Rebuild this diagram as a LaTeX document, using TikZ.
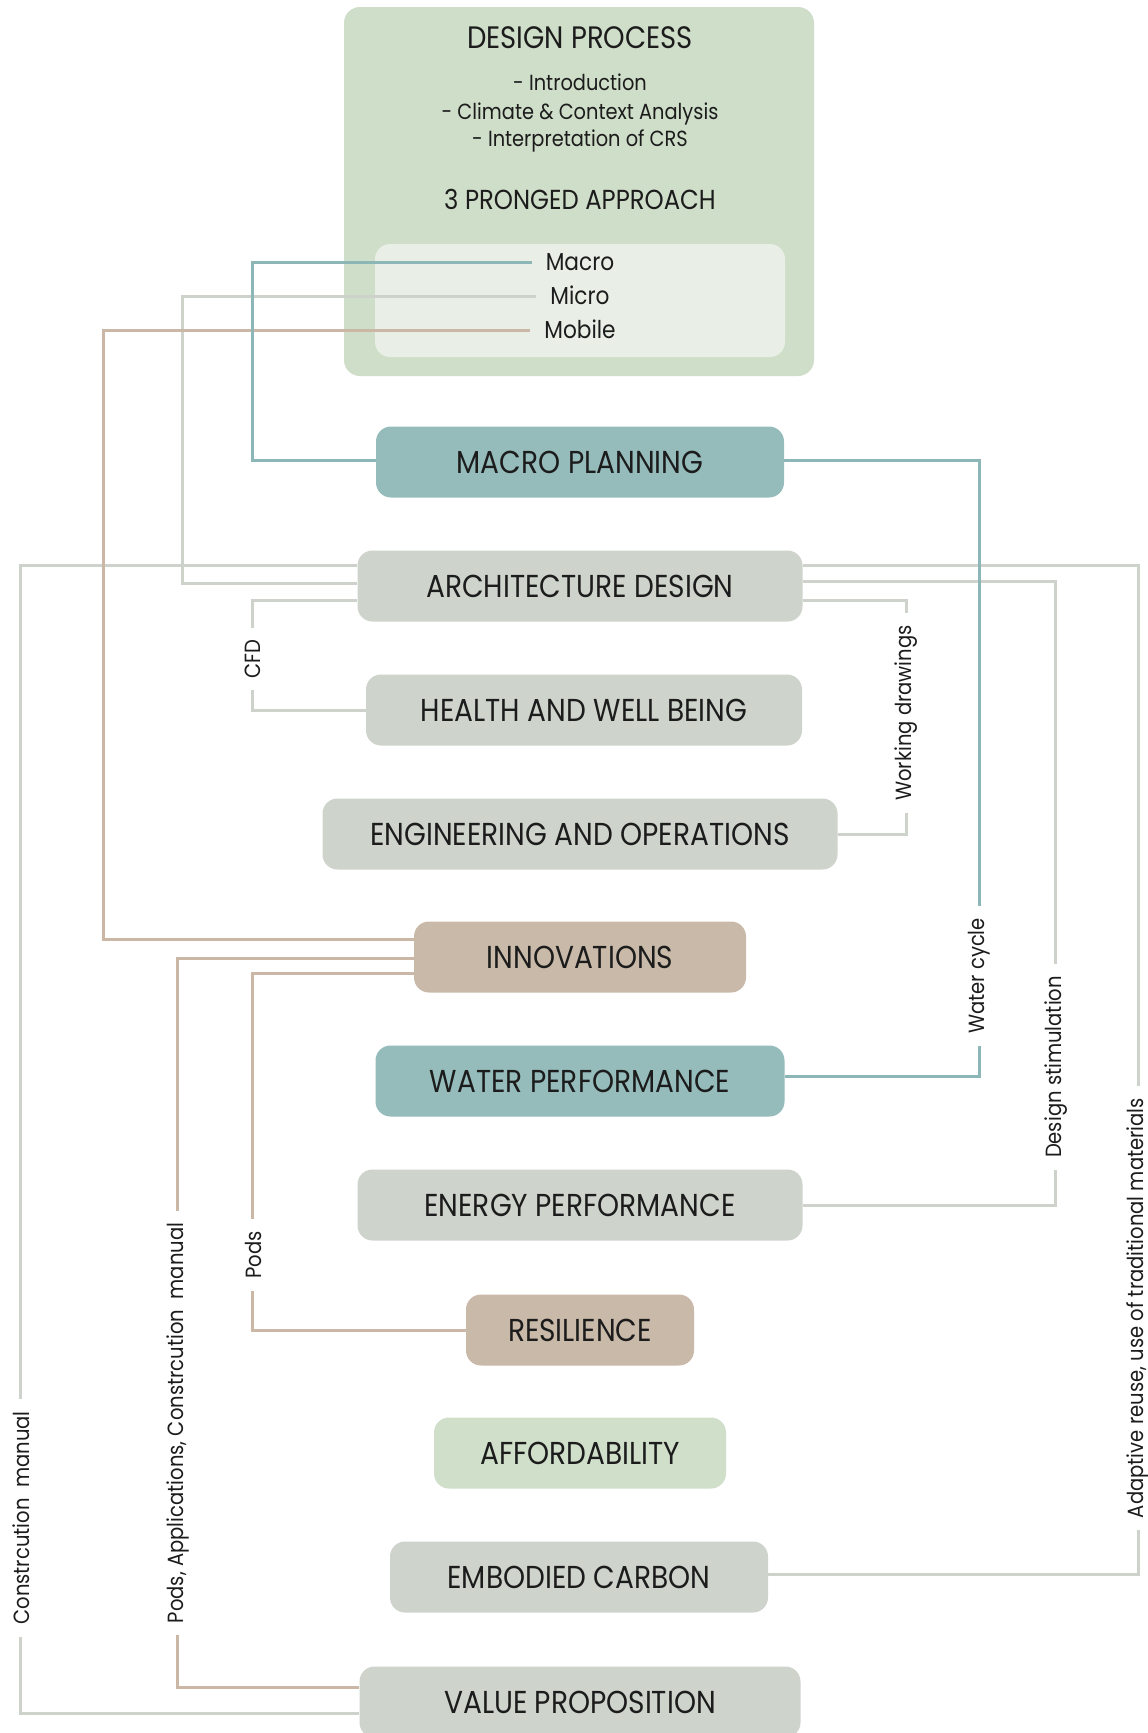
\documentclass[tikz,border=0pt]{standalone}
\usepackage{fontspec}
\setmainfont[FakeStretch=0.885]{Poppins}
\newfontfamily\lblfont[FakeStretch=0.89]{Poppins}
\usetikzlibrary{calc}
\definecolor{txt}{HTML}{1C1C1C}
\definecolor{outergreen}{HTML}{CEDEC8}
\definecolor{innergreen}{HTML}{E9EFE7}
\definecolor{tealbox}{HTML}{95BBBB}
\definecolor{graybox}{HTML}{CED3CC}
\definecolor{tanbox}{HTML}{C9B9A9}
\definecolor{greenbox}{HTML}{CFDFCA}
\definecolor{tealln}{HTML}{8DB7B7}
\definecolor{grayln}{HTML}{CDD2CB}
\definecolor{tanln}{HTML}{CBB7A6}
\begin{document}
\begin{tikzpicture}[x=1pt,y=-1pt,
  box/.style={rounded corners=15pt, minimum height=71pt, inner sep=0pt, text=txt,
    font=\fontsize{31.7}{38}\selectfont},
  tealfill/.style={box, fill=tealbox},
  grayfill/.style={box, fill=graybox},
  tanfill/.style={box, fill=tanbox},
  greenfill/.style={box, fill=greenbox},
  ttl/.style={anchor=base, inner sep=0pt, text=txt},
  prong/.style={inner sep=0pt, text=txt, text height=17.5pt, text depth=0pt,
    font=\fontsize{24.5}{30}\selectfont},
  ln/.style={line width=3pt},
  lbl/.style={rotate=90, fill=white, inner xsep=12pt, inner ysep=1pt, text=txt,
    font=\lblfont\fontsize{22}{26}\selectfont}]
\fill[white] (0,0) rectangle (1148,1733);
\useasboundingbox (0,0) rectangle (1148,1733);

% design process container
\node[fill=outergreen, rounded corners=16pt, minimum width=470pt, minimum height=369pt, inner sep=0pt] (dp) at (579,191.5) {};
\node[fill=innergreen, rounded corners=15pt, minimum width=410pt, minimum height=113pt, inner sep=0pt] (pr) at (580,300.5) {};
\node[ttl, font=\fontsize{31}{36}\selectfont] (t1) at (580,48.3) {DESIGN PROCESS};
\node[ttl, font=\fontsize{21.9}{27}\selectfont] (t2) at (580,90.7) {- Introduction};
\node[ttl, font=\fontsize{21.9}{27}\selectfont] (t3) at (580,119) {- Climate \& Context Analysis};
\node[ttl, font=\fontsize{21.9}{27}\selectfont] (t4) at (580,146.7) {- Interpretation of CRS};
\node[ttl, font=\fontsize{27.5}{33}\selectfont] (t5) at (580,209.3) {3 PRONGED APPROACH};
\node[prong] (mac) at (580,262) {Macro};
\node[prong] (mic) at (580,296) {Micro};
\node[prong] (mob) at (580,330) {Mobile};

% boxes
\node[tealfill, minimum width=408pt] (mp) at (580,462) {MACRO PLANNING};
\node[grayfill, minimum width=445pt] (ad) at (580,586) {ARCHITECTURE DESIGN};
\node[grayfill, minimum width=436pt] (hl) at (584,710) {HEALTH AND WELL BEING};
\node[grayfill, minimum width=515pt] (eo) at (580,834) {ENGINEERING AND OPERATIONS};
\node[tanfill, minimum width=332pt] (inn) at (580,957) {INNOVATIONS};
\node[tealfill, minimum width=409pt] (wp) at (580,1081) {WATER PERFORMANCE};
\node[grayfill, minimum width=445pt] (en) at (580,1205) {ENERGY PERFORMANCE};
\node[tanfill, minimum width=228pt] (rs) at (580,1330) {RESILIENCE};
\node[greenfill, minimum width=292pt] (af) at (580,1453) {AFFORDABILITY};
\node[grayfill, minimum width=378pt] (ec) at (579,1577) {EMBODIED CARBON};
\node[grayfill, minimum width=441pt] (vp) at (580,1702) {VALUE PROPOSITION};

% gray connectors
\draw[ln, grayln] ([xshift=-14pt]mic.west) -| ([xshift=-175pt,yshift=3pt]ad.west) -- ([yshift=3pt]ad.west);
\draw[ln, grayln] ([yshift=21pt]ad.west) -| ([xshift=-339pt,yshift=-11pt]vp.west) -- ([yshift=-11pt]vp.west);
\draw[ln, grayln] ([yshift=-14pt]ad.west) -| ([xshift=-113pt]hl.west) -- (hl.west);
\draw[ln, grayln] ([yshift=-14pt]ad.east) -| ([xshift=69pt]eo.east) -- (eo.east);
\draw[ln, grayln] ([yshift=5pt]ad.east) -| ([xshift=253pt]en.east) -- (en.east);
\draw[ln, grayln] ([yshift=21pt]ad.east) -| ([xshift=370pt,yshift=3pt]ec.east) -- ([yshift=3pt]ec.east);

% tan connectors
\draw[ln, tanln] ([xshift=-14pt]mob.west) -| ([xshift=-310pt,yshift=18pt]inn.west) -- ([yshift=18pt]inn.west);
\draw[ln, tanln] ([yshift=-1pt]inn.west) -| ([xshift=-182pt,yshift=15pt]vp.west) -- ([yshift=15pt]vp.west);
\draw[ln, tanln] ([yshift=-16pt]inn.west) -| ([xshift=-213pt]rs.west) -- (rs.west);

% teal connectors
\draw[ln, tealln] ([xshift=-14pt]mac.west) -| ([xshift=-123pt,yshift=2pt]mp.west) -- ([yshift=2pt]mp.west);
\draw[ln, tealln] ([yshift=2pt]mp.east) -| ([xshift=195pt,yshift=5pt]wp.east) -- ([yshift=5pt]wp.east);

% labels
\node[lbl] (cfd) at (253,659) {CFD};
\node[lbl] (wd) at (906,713) {Working drawings};
\node[lbl] (wc) at (979,976) {Water cycle};
\node[lbl] (ds) at (1056,1067) {Design stimulation};
\node[lbl] (ar) at (1138,1308) {Adaptive reuse, use of traditional materials};
\node[lbl] (pd) at (253,1255) {Pods};
\node[lbl] (pac) at (178,1423) {Pods, Applications, Constrcution~~manual};
\node[lbl] (cm) at (21,1518) {Constrcution~~manual};
\end{tikzpicture}
\end{document}
